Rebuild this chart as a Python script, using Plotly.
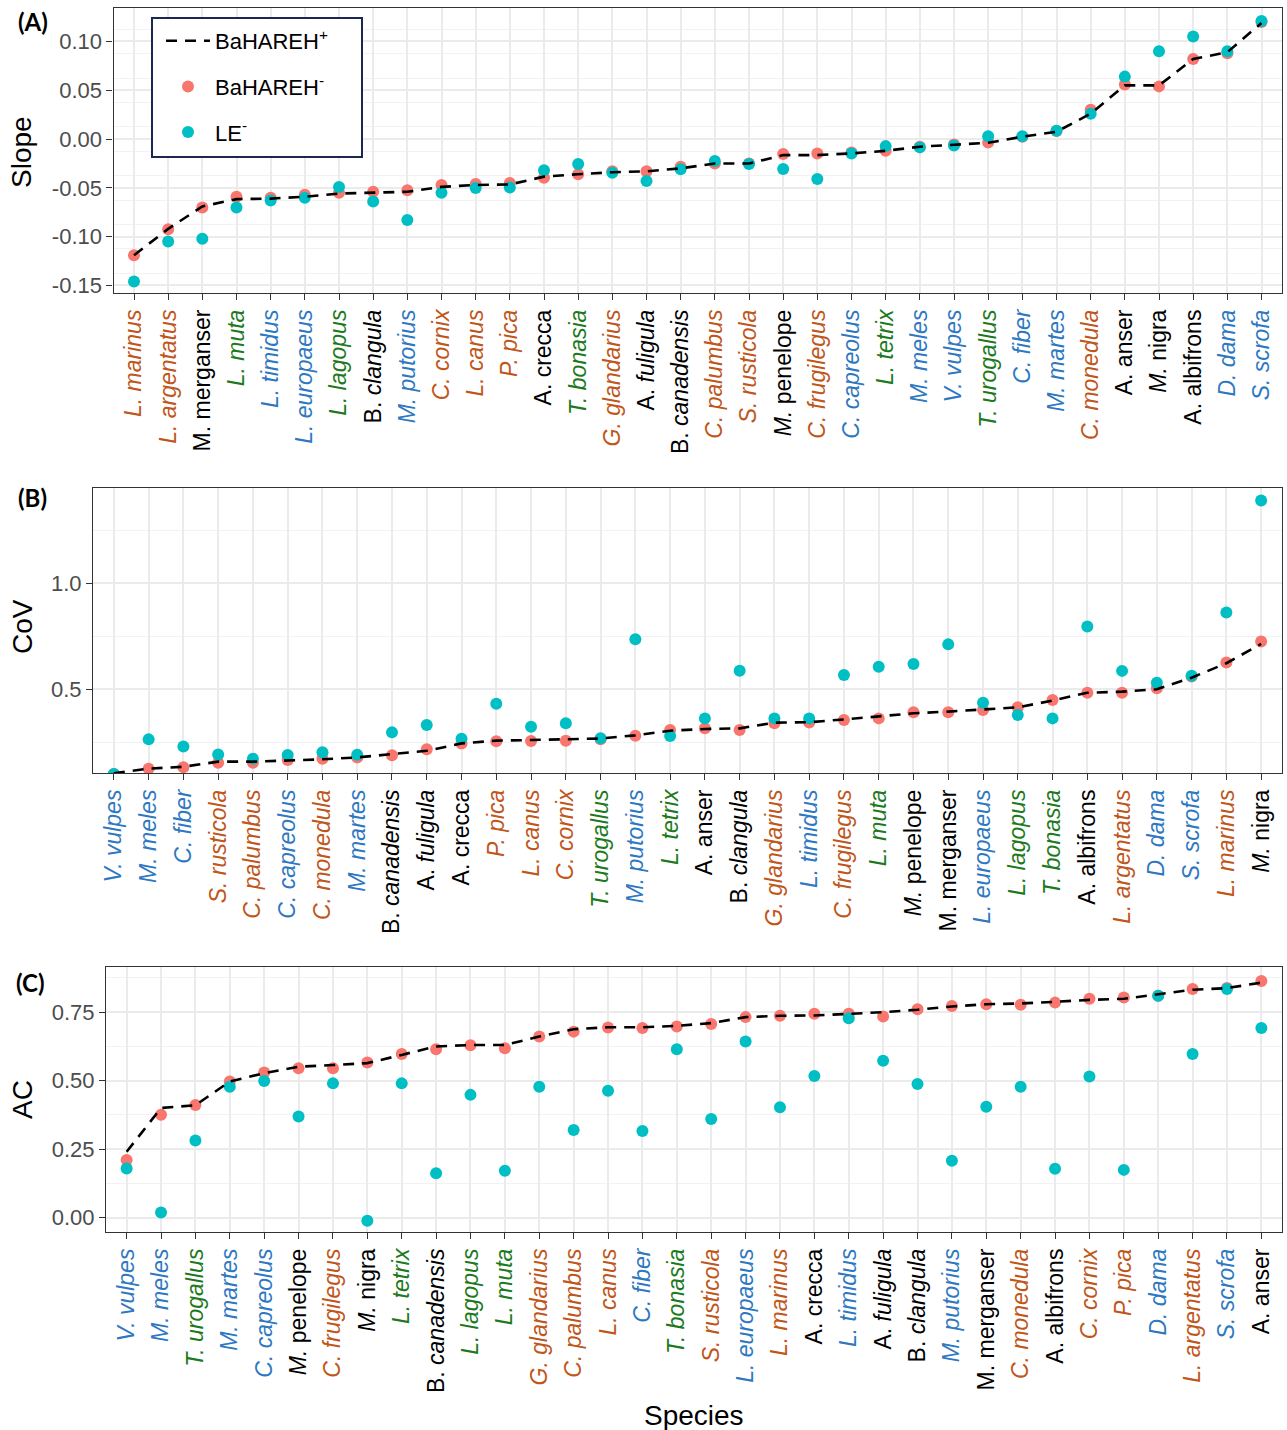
import plotly.graph_objects as go

# ---------------- data ----------------
speciesA = ["L. marinus","L. argentatus","M. merganser","L. muta","L. timidus","L. europaeus","L. lagopus",
            "B. clangula","M. putorius","C. cornix","L. canus","P. pica","A. crecca","T. bonasia","G. glandarius",
            "A. fuligula","B. canadensis","C. palumbus","S. rusticola","M. penelope","C. frugilegus","C. capreolus",
            "L. tetrix","M. meles","V. vulpes","T. urogallus","C. fiber","M. martes","C. monedula","A. anser",
            "M. nigra","A. albifrons","D. dama","S. scrofa"]
plusA = [-0.119,-0.092,-0.069,-0.0615,-0.061,-0.059,-0.0558,-0.055,-0.054,-0.049,-0.047,-0.0465,-0.0385,-0.036,
         -0.034,-0.033,-0.030,-0.025,-0.025,-0.0164,-0.0164,-0.0147,-0.012,-0.0078,-0.006,-0.0038,0.0024,0.0075,
         0.026,0.055,0.055,0.082,0.089,0.119]
minusA = [-0.119,-0.0925,-0.070,-0.059,-0.060,-0.057,-0.055,-0.054,-0.0525,-0.047,-0.046,-0.045,-0.0396,-0.036,
          -0.033,-0.033,-0.0283,-0.025,-0.025,-0.0153,-0.0147,-0.0137,-0.012,-0.0078,-0.0055,-0.0034,0.0024,0.0082,
          0.030,0.056,0.054,0.082,0.088,0.120]
leA = [-0.146,-0.105,-0.102,-0.070,-0.063,-0.060,-0.049,-0.064,-0.083,-0.055,-0.050,-0.0495,-0.032,-0.0255,
       -0.0345,-0.043,-0.031,-0.0225,-0.0256,-0.0307,-0.041,-0.0147,-0.0072,-0.0085,-0.0065,0.003,0.003,0.0085,
       0.026,0.064,0.090,0.105,0.090,0.121]

speciesB = ["V. vulpes","M. meles","C. fiber","S. rusticola","C. palumbus","C. capreolus","C. monedula","M. martes",
            "B. canadensis","A. fuligula","A. crecca","P. pica","L. canus","C. cornix","T. urogallus","M. putorius",
            "L. tetrix","A. anser","B. clangula","G. glandarius","L. timidus","C. frugilegus","L. muta","M. penelope",
            "M. merganser","L. europaeus","L. lagopus","T. bonasia","A. albifrons","L. argentatus","D. dama",
            "S. scrofa","L. marinus","M. nigra"]
plusB = [0.104,0.126,0.135,0.159,0.159,0.164,0.170,0.179,0.195,0.210,0.245,0.258,0.261,0.264,0.268,0.283,0.305,
         0.313,0.316,0.343,0.345,0.358,0.371,0.387,0.395,0.406,0.415,0.447,0.484,0.489,0.500,0.555,0.623,0.714]
minusB = [0.101,0.126,0.132,0.154,0.154,0.167,0.173,0.179,0.189,0.217,0.245,0.255,0.256,0.258,0.264,0.281,0.308,
          0.316,0.308,0.340,0.343,0.355,0.363,0.392,0.392,0.403,0.415,0.450,0.484,0.484,0.505,0.560,0.626,0.725]
leB = [0.101,0.264,0.230,0.193,0.173,0.190,0.203,0.192,0.297,0.332,0.267,0.432,0.324,0.340,0.269,0.736,0.280,
       0.363,0.588,0.363,0.363,0.568,0.607,0.619,0.712,0.437,0.379,0.363,0.796,0.587,0.531,0.564,0.862,1.39]

speciesC = ["V. vulpes","M. meles","T. urogallus","M. martes","C. capreolus","M. penelope","C. frugilegus","M. nigra",
            "L. tetrix","B. canadensis","L. lagopus","L. muta","G. glandarius","C. palumbus","L. canus","C. fiber",
            "T. bonasia","S. rusticola","L. europaeus","L. marinus","A. crecca","L. timidus","A. fuligula",
            "B. clangula","M. putorius","M. merganser","C. monedula","A. albifrons","C. cornix","P. pica","D. dama",
            "L. argentatus","S. scrofa","A. anser"]
plusC = [0.24,0.40,0.41,0.497,0.527,0.551,0.557,0.564,0.594,0.625,0.63,0.63,0.661,0.688,0.695,0.695,0.70,0.71,
         0.732,0.737,0.738,0.743,0.75,0.759,0.771,0.779,0.782,0.788,0.795,0.799,0.816,0.832,0.838,0.858]
minusC = [0.210,0.375,0.411,0.497,0.530,0.545,0.545,0.566,0.597,0.615,0.629,0.618,0.661,0.679,0.694,0.692,0.698,
          0.707,0.732,0.737,0.744,0.744,0.734,0.761,0.773,0.779,0.777,0.785,0.799,0.804,0.81,0.835,0.838,0.864]
leC = [0.179,0.018,0.281,0.478,0.499,0.369,0.49,-0.012,0.49,0.162,0.448,0.171,0.478,0.320,0.463,0.316,0.615,
       0.36,0.643,0.403,0.517,0.728,0.573,0.488,0.207,0.405,0.478,0.178,0.515,0.174,0.81,0.597,0.835,0.692]

orange_sp = ["L. marinus","L. argentatus","C. cornix","L. canus","P. pica","G. glandarius","C. palumbus",
             "S. rusticola","C. frugilegus","C. monedula"]
green_sp = ["L. muta","L. lagopus","T. bonasia","L. tetrix","T. urogallus"]
blue_sp = ["L. timidus","L. europaeus","M. putorius","C. capreolus","M. meles","V. vulpes","C. fiber","M. martes",
           "D. dama","S. scrofa"]
black_fmt = {"M. merganser": "M. merganser", "B. clangula": "B. <i>clangula</i>", "A. crecca": "A. crecca",
             "A. fuligula": "A. <i>fuligula</i>", "B. canadensis": "B. <i>canadensis</i>",
             "M. penelope": "<i>M.</i> penelope", "A. anser": "A. anser", "M. nigra": "<i>M.</i> nigra",
             "A. albifrons": "A. albifrons"}

# ---------------- styling ----------------
ORANGE, GREEN, BLUE, BLACK = "#C0561A", "#1C7A1C", "#2E78C2", "#000000"
RED, TEAL = "#F8766D", "#00BFC4"
FONT = "Liberation Sans, Arial, sans-serif"
W, H = 1287, 1430


def label(sp):
    if sp in orange_sp:
        return f'<span style="color:{ORANGE}"><i>{sp}</i></span>'
    if sp in green_sp:
        return f'<span style="color:{GREEN}"><i>{sp}</i></span>'
    if sp in blue_sp:
        return f'<span style="color:{BLUE}"><i>{sp}</i></span>'
    return f'<span style="color:{BLACK}">{black_fmt.get(sp, sp)}</span>'


def px_x(p):
    return p / W


def px_y(p):
    return 1 - p / H


fig = go.Figure()

panels = [
    (speciesA, plusA, minusA, leA, "x", "y"),
    (speciesB, plusB, minusB, leB, "x2", "y2"),
    (speciesC, plusC, minusC, leC, "x3", "y3"),
]
for i, (sp, pl, mi, le, xa, ya) in enumerate(panels):
    first = i == 0
    fig.add_trace(go.Scatter(x=sp, y=mi, mode="markers", xaxis=xa, yaxis=ya,
                             marker=dict(color=RED, size=12), name="BaHAREH<sup>-</sup>",
                             legendgroup="b", legendrank=2, showlegend=first))
    fig.add_trace(go.Scatter(x=sp, y=le, mode="markers", xaxis=xa, yaxis=ya,
                             marker=dict(color=TEAL, size=12), name="LE<sup>-</sup>",
                             legendgroup="c", legendrank=3, showlegend=first))
    fig.add_trace(go.Scatter(x=sp, y=pl, mode="lines", xaxis=xa, yaxis=ya,
                             line=dict(color="black", width=2.6, dash="11px,8px"), name="BaHAREH<sup>+</sup>",
                             legendgroup="a", legendrank=1, showlegend=first))

GRID = "#EBEBEB"
MINOR = "#F2F2F2"


def xaxis(dom, sp):
    return dict(domain=dom, type="category", categoryorder="array", categoryarray=sp,
                range=[-0.6, len(sp) - 0.4], tickmode="array", tickvals=sp,
                ticktext=[label(s) for s in sp], tickangle=-90,
                tickfont=dict(family=FONT, size=23), showgrid=True, gridcolor=GRID, gridwidth=1.6,
                showline=True, linecolor="#333333", linewidth=1.2, mirror=True,
                ticks="outside", ticklen=6, tickwidth=1.3, tickcolor="#333333", zeroline=False,
                automargin=False)


def yaxis(dom, rng, tv, tt, minor_dtick, minor_tick0, anchor):
    return dict(domain=dom, range=rng, tickmode="array", tickvals=tv, ticktext=tt,
                tickfont=dict(family=FONT, size=22, color="#4D4D4D"), showgrid=True, gridcolor=GRID,
                gridwidth=1.6, minor=dict(showgrid=True, gridcolor=MINOR, gridwidth=1, dtick=minor_dtick,
                                          tick0=minor_tick0),
                showline=True, linecolor="#333333", linewidth=1.2, mirror=True, ticks="outside", ticklen=6,
                tickwidth=1.3, tickcolor="#333333", zeroline=False, automargin=False, anchor=anchor)


fig.update_layout(
    width=W, height=H, margin=dict(l=0, r=0, t=0, b=0), plot_bgcolor="white", paper_bgcolor="white",
    font=dict(family=FONT, color="black"),
    xaxis=dict(**xaxis([px_x(113.5), px_x(1282)], speciesA), anchor="y"),
    xaxis2=dict(**xaxis([px_x(93), px_x(1282)], speciesB), anchor="y2"),
    xaxis3=dict(**xaxis([px_x(106), px_x(1282)], speciesC), anchor="y3"),
    yaxis=yaxis([px_y(293.3), px_y(8.3)], [-0.158, 0.134], [-0.15, -0.10, -0.05, 0, 0.05, 0.10],
                ["-0.15", "-0.10", "-0.05", "0.00", "0.05", "0.10"], 0.025, 0.0125, "x"),
    yaxis2=yaxis([px_y(773.3), px_y(488.3)], [0.104, 1.448], [0.5, 1.0], ["0.5", "1.0"], 0.25, 0.0, "x2"),
    yaxis3=yaxis([px_y(1232.3), px_y(967.3)], [-0.054, 0.914], [0, 0.25, 0.5, 0.75],
                 ["0.00", "0.25", "0.50", "0.75"], 0.125, 0.0, "x3"),
    legend=dict(x=px_x(161), y=px_y(20), xanchor="left", yanchor="top", bgcolor="rgba(0,0,0,0)",
                borderwidth=0, font=dict(family=FONT, size=22),
                traceorder="grouped", tracegroupgap=14, itemwidth=44),
    showlegend=True,
)

# legend frame
fig.add_shape(type="rect", xref="paper", yref="paper", x0=px_x(152), x1=px_x(362), y0=px_y(157), y1=px_y(18),
              line=dict(color="#1B2752", width=2), fillcolor="white", layer="above")

ann = [
    dict(text="<b>(A)</b>", x=px_x(16), y=px_y(22), xanchor="left"),
    dict(text="<b>(B)</b>", x=px_x(16), y=px_y(497), xanchor="left"),
    dict(text="<b>(C)</b>", x=px_x(14), y=px_y(982), xanchor="left"),
]
for a in ann:
    fig.add_annotation(xref="paper", yref="paper", showarrow=False, yanchor="middle",
                       font=dict(family="Lato, Open Sans, sans-serif", size=24, color="black"), **a)

for txt, yc in [("Slope", 152), ("CoV", 627), ("AC", 1100)]:
    fig.add_annotation(text=txt, xref="paper", yref="paper", x=px_x(22), y=px_y(yc), showarrow=False,
                       textangle=-90, xanchor="center", yanchor="middle",
                       font=dict(family=FONT, size=28, color="black"))
fig.add_annotation(text="Species", xref="paper", yref="paper", x=px_x(694), y=px_y(1415), showarrow=False,
                   xanchor="center", yanchor="middle", font=dict(family=FONT, size=28, color="black"))

fig.write_html("out.html", config={"displayModeBar": False},
               post_script="document.body.style.margin='0px';document.body.style.overflow='hidden';")
